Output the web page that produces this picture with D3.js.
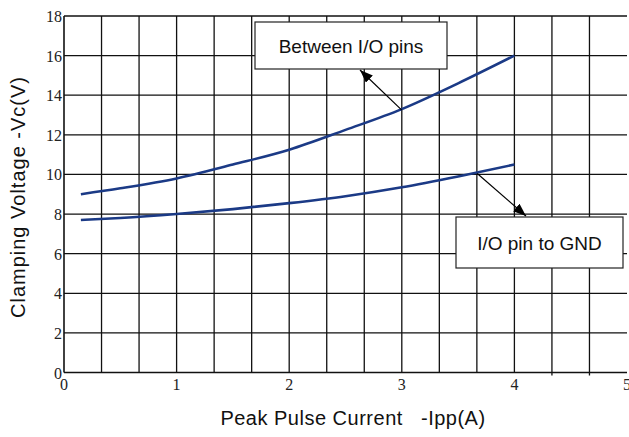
<!DOCTYPE html>
<html>
<head>
<meta charset="utf-8">
<script src="https://cdn.jsdelivr.net/npm/d3@7"></script>
<style>
  html, body { margin: 0; padding: 0; background: #fff; }
  svg { display: block; }
</style>
</head>
<body>
<svg id="chart" width="629" height="437"></svg>
<script>
// Clamping voltage vs. peak pulse current
const currentA = [0.15, 0.5, 1.0, 1.5, 2.0, 2.5, 3.0, 3.5, 4.0];
const betweenIoPins = [9.0, 9.3, 9.8, 10.5, 11.25, 12.25, 13.3, 14.6, 16.0];
const ioPinToGnd = [7.7, 7.8, 8.0, 8.25, 8.55, 8.9, 9.35, 9.9, 10.5];
const xTicks = [0, 1, 2, 3, 4, 5];
const yTicks = [0, 2, 4, 6, 8, 10, 12, 14, 16, 18];
const xGrid = d3.range(1, 15).map(i => i / 3);

const svg = d3.select("#chart");
const plot = { left: 64, right: 627, top: 16, bottom: 372.5 };

const x = d3.scaleLinear().domain([0, 5]).range([plot.left, plot.right]);
const y = d3.scaleLinear().domain([0, 18]).range([plot.bottom, plot.top]);

const grid = svg.append("g").attr("stroke", "#111").attr("stroke-width", 1.3);
grid.selectAll("line.v").data(xGrid).join("line")
  .attr("class", "v")
  .attr("x1", d => x(d)).attr("x2", d => x(d))
  .attr("y1", plot.top).attr("y2", d => d > 4.1 && d < 4.9 ? plot.bottom + 3 : plot.bottom);
grid.selectAll("line.h").data(yTicks.slice(1)).join("line")
  .attr("class", "h")
  .attr("x1", plot.left).attr("x2", plot.right)
  .attr("y1", d => y(d)).attr("y2", d => y(d));

// axes frame
svg.append("line").attr("x1", plot.left).attr("x2", plot.left).attr("y1", plot.top).attr("y2", plot.bottom)
  .attr("stroke", "#111").attr("stroke-width", 1.6);
svg.append("line").attr("x1", plot.left).attr("x2", plot.right).attr("y1", plot.bottom).attr("y2", plot.bottom)
  .attr("stroke", "#111").attr("stroke-width", 1.6);

// tick labels
const serif = "'Liberation Serif', 'Times New Roman', serif";
svg.append("g").selectAll("text").data(yTicks).join("text")
  .attr("x", plot.left - 2).attr("y", d => y(d) + 6)
  .attr("text-anchor", "end")
  .attr("font-family", serif).attr("font-size", 16)
  .attr("fill", "#222")
  .text(d => d);
svg.append("g").selectAll("text").data(xTicks).join("text")
  .attr("x", d => x(d)).attr("y", plot.bottom + 17.5)
  .attr("text-anchor", "middle")
  .attr("font-family", serif).attr("font-size", 16)
  .attr("fill", "#222")
  .text(d => d);

// axis titles
const sans = "'Liberation Sans', Arial, sans-serif";
svg.append("text")
  .attr("x", 353).attr("y", 425)
  .attr("text-anchor", "middle")
  .attr("font-family", sans).attr("font-size", 20)
  .attr("letter-spacing", 0.5)
  .attr("fill", "#111")
  .style("white-space", "pre")
  .text("Peak Pulse Current   -Ipp(A)");
svg.append("text")
  .attr("transform", "translate(25,197) rotate(-90)")
  .attr("text-anchor", "middle")
  .attr("font-family", sans).attr("font-size", 20)
  .attr("letter-spacing", 1.0)
  .attr("fill", "#111")
  .text("Clamping Voltage -Vc(V)");

// curves
const line = d3.line().x(d => x(d[0])).y(d => y(d[1])).curve(d3.curveMonotoneX);
[betweenIoPins, ioPinToGnd].forEach(series => {
  svg.append("path")
    .datum(currentA.map((c, i) => [c, series[i]]))
    .attr("d", line)
    .attr("fill", "none")
    .attr("stroke", "#1b3a86")
    .attr("stroke-width", 2.6);
});

// annotations
svg.append("defs").append("marker")
  .attr("id", "arrow").attr("viewBox", "0 0 13 10")
  .attr("refX", 13).attr("refY", 5)
  .attr("markerWidth", 13).attr("markerHeight", 10)
  .attr("markerUnits", "userSpaceOnUse")
  .attr("orient", "auto")
  .append("path").attr("d", "M0,0 L13,5 L0,10 Z").attr("fill", "#000");

function callout(label, bx, by, bw, bh, from, to) {
  svg.append("rect")
    .attr("x", bx).attr("y", by).attr("width", bw).attr("height", bh)
    .attr("fill", "#fff").attr("stroke", "#222").attr("stroke-width", 1.2);
  svg.append("text")
    .attr("x", bx + bw / 2).attr("y", by + bh / 2 + 7)
    .attr("text-anchor", "middle")
    .attr("font-family", sans).attr("font-size", 19)
    .attr("fill", "#111")
    .text(label);
  svg.append("line")
    .attr("x1", from[0]).attr("y1", from[1])
    .attr("x2", to[0]).attr("y2", to[1])
    .attr("stroke", "#000").attr("stroke-width", 1.2)
    .attr("marker-end", "url(#arrow)");
}
callout("Between I/O pins", 255, 22, 192, 47, [x(3.0), y(13.25)], [360, 70]);
callout("I/O pin to GND", 456, 217, 167, 51, [x(3.67), y(10.05)], [526, 216]);
</script>
</body>
</html>
